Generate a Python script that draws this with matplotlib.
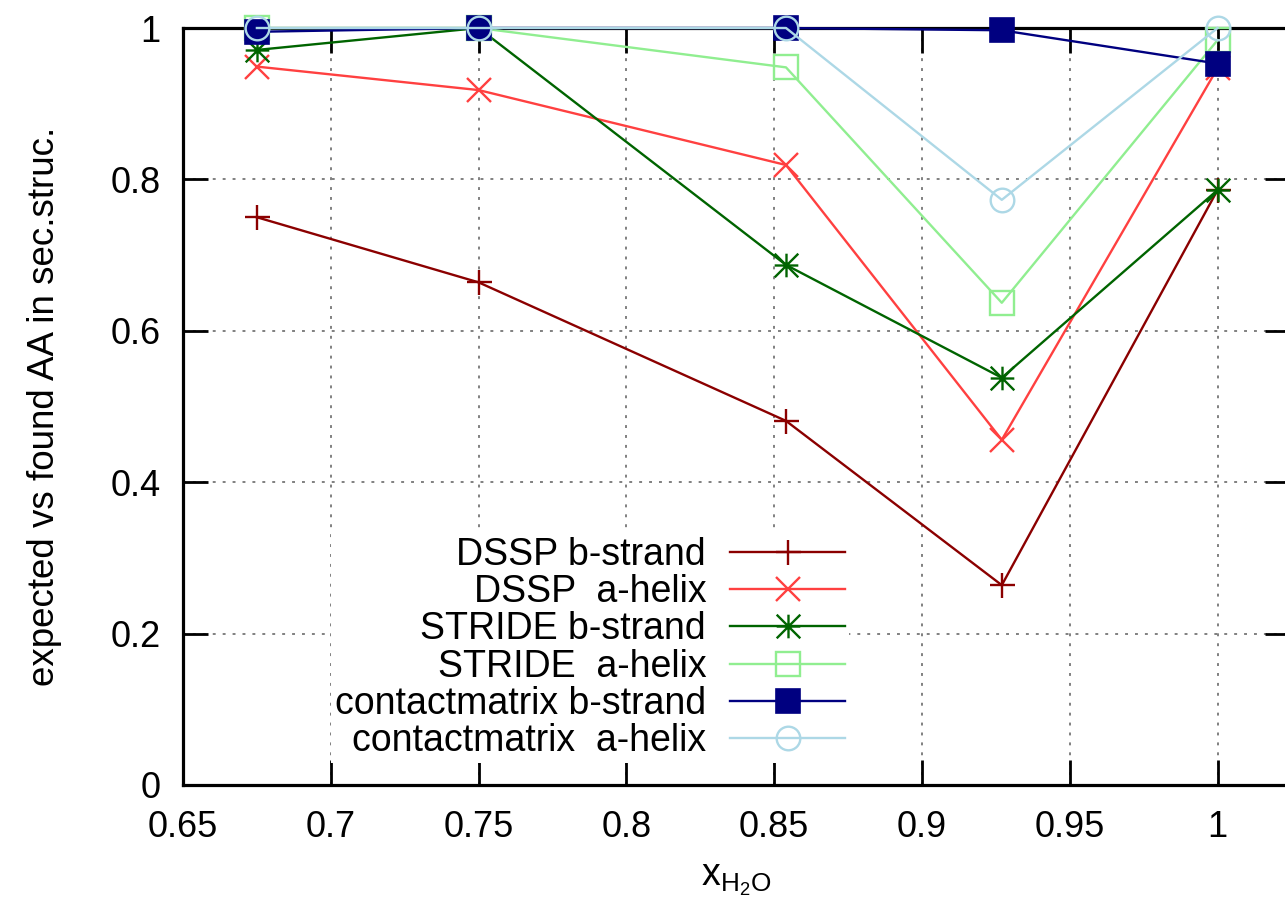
import matplotlib
matplotlib.use("Agg")
import matplotlib.pyplot as plt
from matplotlib.path import Path
import numpy as np

plt.rcParams['font.family'] = ['Liberation Sans', 'DejaVu Sans']
plt.rcParams['mathtext.default'] = 'regular'

x_h2o = [0.675, 0.75, 0.854, 0.927, 1.0]

dssp_b = [0.750, 0.664, 0.481, 0.264, 0.786]
dssp_a = [0.949, 0.918, 0.819, 0.456, 0.947]
stride_b = [0.971, 1.000, 0.687, 0.538, 0.786]
stride_a = [1.000, 1.000, 0.948, 0.637, 0.984]
contact_b = [0.995, 1.000, 1.000, 0.997, 0.953]
contact_a = [1.000, 1.000, 1.000, 0.773, 1.000]

labels = ["DSSP b-strand", "DSSP  a-helix", "STRIDE b-strand",
          "STRIDE  a-helix", "contactmatrix b-strand", "contactmatrix  a-helix"]

xticks = [0.65, 0.7, 0.75, 0.8, 0.85, 0.9, 0.95, 1.0]
xticklabels = ["0.65", "0.7", "0.75", "0.8", "0.85", "0.9", "0.95", "1"]
yticks = [0, 0.2, 0.4, 0.6, 0.8, 1.0]
yticklabels = ["0", "0.2", "0.4", "0.6", "0.8", "1"]

# asterisk marker (+ and x superimposed)
ast_verts = [(-1, 0), (1, 0), (0, -1), (0, 1), (-1, -1), (1, 1), (-1, 1), (1, -1)]
ast_codes = [Path.MOVETO, Path.LINETO] * 4
asterisk = Path(ast_verts, ast_codes)

W, H = 1285, 909
fig = plt.figure(figsize=(W / 100, H / 100), dpi=100)
L, R, T, B = 183, 1290, 28, 785
ax = fig.add_axes([L / W, 1 - B / H, (R - L) / W, (B - T) / H])

series = [
    (dssp_b, dict(color='#8b0000', marker='+', mfc='none', ms=18, mew=1.7)),
    (dssp_a, dict(color='#ff4040', marker='x', mfc='none', ms=17, mew=1.7)),
    (stride_b, dict(color='#006400', marker=asterisk, mfc='none', ms=17, mew=1.7)),
    (stride_a, dict(color='#90ee90', marker='s', mfc='none', ms=17, mew=1.7)),
    (contact_b, dict(color='#000080', marker='s', mfc='#000080', ms=17, mew=1.2)),
    (contact_a, dict(color='#add8e6', marker='o', mfc='none', ms=17, mew=1.7)),
]

for (vals, st), lab in zip(series, labels):
    ax.plot(x_h2o, vals, lw=1.7, label=lab, clip_on=False, zorder=3, **st)

ax.set_xlim(0.65, 1.0245)
ax.set_ylim(0, 1)
ax.set_xticks(xticks)
ax.set_xticklabels(xticklabels)
ax.set_yticks(yticks)
ax.set_yticklabels(yticklabels)

ax.tick_params(axis='both', direction='in', length=18, width=2,
               top=True, right=True, labelsize=26, color='black')
ax.tick_params(axis='x', pad=18)
ax.tick_params(axis='y', pad=16)
for sp in ax.spines.values():
    sp.set_linewidth(2.3)
    sp.set_zorder(2.6)

ax.grid(True, color='#808080', linewidth=1.4, linestyle=(0, (1.5, 3.6)))
ax.set_axisbelow(True)

ax.set_xlabel(r'$x_{H_2O}$', fontsize=27, labelpad=12)
ax.set_ylabel('expected vs found AA in sec.struc.', fontsize=26.5, labelpad=35)

leg = ax.legend(loc='upper right', bbox_to_anchor=(849 / W, 1 - 533 / H),
                bbox_transform=fig.transFigure, markerfirst=False,
                fontsize=27, labelspacing=0.035, handlelength=3.07,
                handletextpad=0.64, borderpad=0.1, borderaxespad=0,
                frameon=True, fancybox=False, numpoints=1)
leg.get_frame().set_facecolor('white')
leg.get_frame().set_edgecolor('none')
leg.get_frame().set_alpha(1)

fig.savefig('out.png', dpi=100)
